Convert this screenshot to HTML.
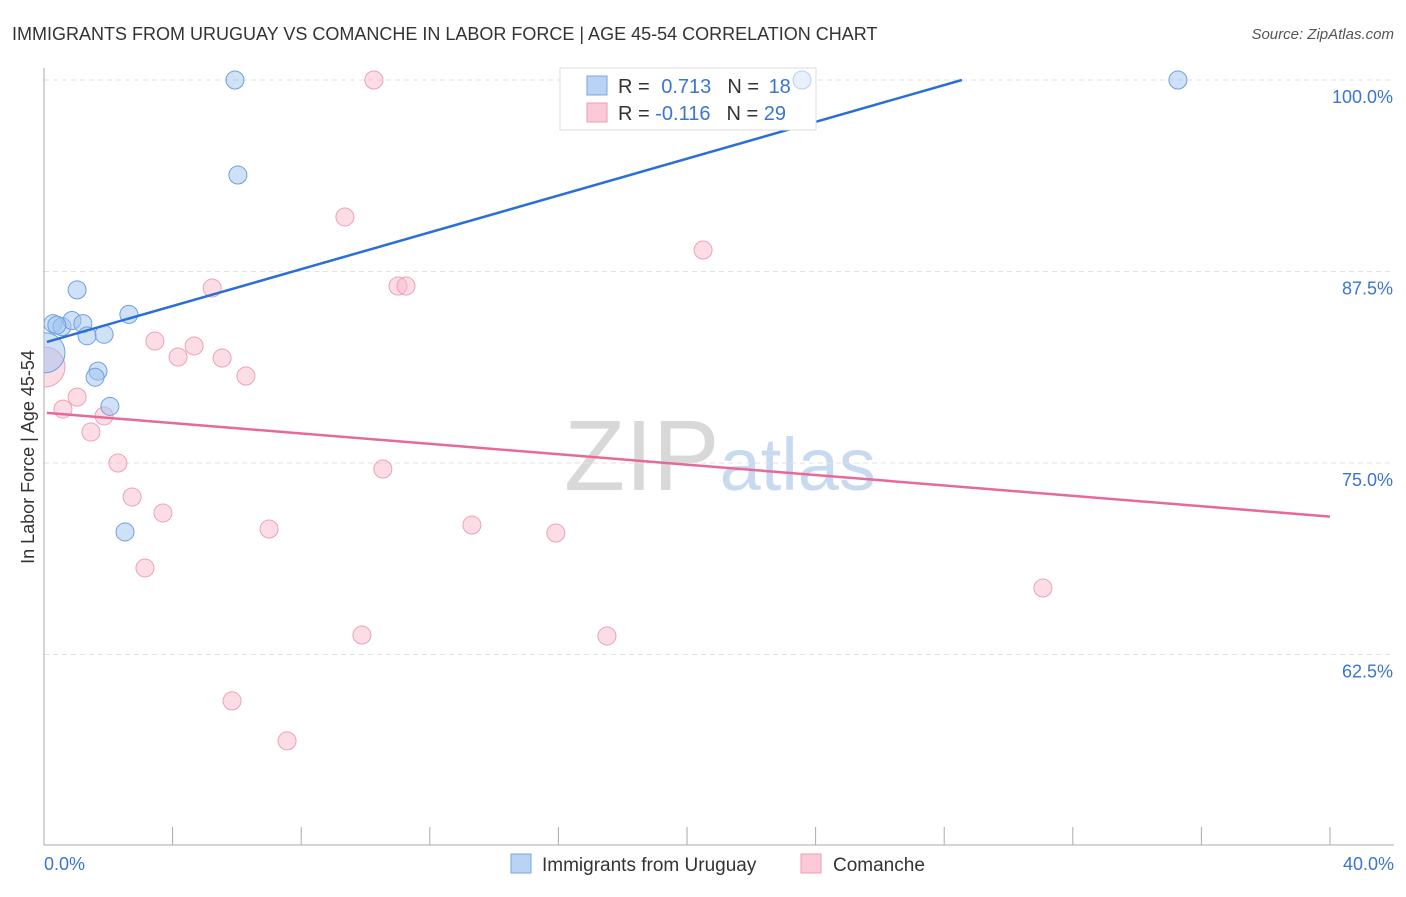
<!DOCTYPE html>
<html><head><meta charset="utf-8"><style>
body{margin:0;background:#fff;font-family:"Liberation Sans",sans-serif}
svg text{font-family:"Liberation Sans",sans-serif}
</style></head><body>
<svg width="1406" height="892" xmlns="http://www.w3.org/2000/svg">
<defs><clipPath id="plotclip"><rect x="44" y="60" width="1362" height="785"/></clipPath></defs>
<text x="12" y="40" font-size="18" fill="#333">IMMIGRANTS FROM URUGUAY VS COMANCHE IN LABOR FORCE | AGE 45-54 CORRELATION CHART</text>
<text x="1394" y="39" font-size="15" fill="#555" font-style="italic" text-anchor="end">Source: ZipAtlas.com</text>
<text x="720" y="490" font-size="100" fill="#ddd" text-anchor="middle" font-family="Liberation Serif"><tspan fill="#d8d8d8">ZIP</tspan><tspan fill="#c8daf0" font-family="Liberation Sans" font-size="74">atlas</tspan></text>
<g id="grid"></g>
<g id="axes"></g>
<g id="marks" clip-path="url(#plotclip)"></g>
<text x="34" y="457" font-size="18" fill="#333" text-anchor="middle" transform="rotate(-90 34 457)">In Labor Force | Age 45-54</text>
<text x="44" y="870" font-size="18" fill="#3a75d0">0.0%</text>
<text x="1394" y="870" font-size="18" fill="#3a75d0" text-anchor="end">40.0%</text>
<g>
<rect x="560" y="68" width="256" height="62" fill="#fff" stroke="#ddd"/>
<rect x="587" y="76" width="20" height="19" fill="#b8d3f5" stroke="#7aa6e0"/>
<rect x="587" y="103" width="20" height="19" fill="#fbcad8" stroke="#ec9ab4"/>
<text x="618" y="93" font-size="20" fill="#333">R = <tspan fill="#3a75d0" dx="6">0.713</tspan><tspan dx="16" fill="#333">N = </tspan><tspan fill="#3a75d0" dx="4">18</tspan></text>
<text x="618" y="120" font-size="20" fill="#333">R = <tspan fill="#3a75d0">-0.116</tspan><tspan dx="16" fill="#333">N = </tspan><tspan fill="#3a75d0">29</tspan></text>
</g>
<circle cx="802" cy="80" r="9" fill="rgba(160,195,240,0.25)" stroke="#b8cff0"/>
<g>
<rect x="511" y="854" width="20" height="19" fill="#b8d3f5" stroke="#7aa6e0"/>
<text x="542" y="871" font-size="19" fill="#333">Immigrants from Uruguay</text>
<rect x="801" y="854" width="20" height="19" fill="#fbcad8" stroke="#ec9ab4"/>
<text x="833" y="871" font-size="19" fill="#333">Comanche</text>
</g>
</svg>
<script>
const yTicks=[100,87.5,75,62.5];
const yTickLabels=["100.0%","87.5%","75.0%","62.5%"];
const xTicks=[0,4,8,12,16,20,24,28,32,36,40];
const blueX=[5.94,6.03,1.03,2.64,0.28,0.56,0.87,1.21,1.34,1.87,0.03,1.68,1.59,2.05,2.52,35.27,0.4];
const blueY=[100,93.8,86.3,84.7,84.1,83.9,84.3,84.1,83.3,83.4,82.2,81.0,80.6,78.7,70.5,100,84.0];
const blueR=[9,9,9,9,9,9,9,9,9,9,20,9,9,9,9,9,9];
const pinkX=[10.26,9.36,20.5,5.23,11.01,11.26,3.45,4.67,4.17,5.54,6.28,0.03,0.59,1.03,1.87,1.46,2.3,2.74,3.7,7.0,13.31,15.92,10.54,3.14,31.07,9.89,17.51,5.85,7.56];
const pinkY=[100,91.06,88.9,86.42,86.55,86.55,82.96,82.64,81.92,81.85,80.68,81.27,78.52,79.3,78.07,77.02,75.0,72.78,71.74,70.69,70.95,70.43,74.61,68.15,66.84,63.77,63.71,59.47,56.86];
const pinkR=[9,9,9,9,9,9,9,9,9,9,9,20,9,9,9,9,9,9,9,9,9,9,9,9,9,9,9,9,9];
const blueTrendX=[0.09,28.55];
const blueTrendY=[82.9,100];
const pinkTrendX=[0.09,40];
const pinkTrendY=[78.27,71.5];
const NS="http://www.w3.org/2000/svg";
const xs=v=>44+v/40*1286;
const ys=v=>80+(100-v)/12.5*191.5;
function el(t,a,p){const e=document.createElementNS(NS,t);for(const k in a)e.setAttribute(k,a[k]);p.appendChild(e);return e;}
const grid=document.getElementById('grid'),axes=document.getElementById('axes'),marks=document.getElementById('marks');
yTicks.forEach((t,i)=>{
 const l=el('line',{x1:44,x2:1394,y1:ys(t),y2:ys(t),stroke:'#e2e2e2','stroke-dasharray':'5,4'},grid);
 
 
 const tx=el('text',{x:1393,y:ys(t)+23,'font-size':18,fill:'#3a75d0','text-anchor':'end'},grid);
 tx.textContent=yTickLabels[i];
 
 
});
const ax=el('line',{x1:44,x2:44,y1:68,y2:845,stroke:'#aaa'},axes);


const bx=el('line',{x1:44,x2:1394,y1:845,y2:845,stroke:'#aaa'},axes);


xTicks.forEach(t=>{
 const l=el('line',{x1:xs(t),x2:xs(t),y1:827,y2:845,stroke:'#aaa'},axes);
 
 
});
pinkX.forEach((v,i)=>{
 const c=el('circle',{cx:xs(v),cy:ys(pinkY[i]),r:pinkR[i],fill:'rgba(248,180,200,0.45)',stroke:'#eea0b8','stroke-width':1},marks);
 
 
});
blueX.forEach((v,i)=>{
 const c=el('circle',{cx:xs(v),cy:ys(blueY[i]),r:blueR[i],fill:'rgba(160,195,240,0.5)',stroke:'#6f9fe0','stroke-width':1},marks);
 
 
});
const bl=el('line',{x1:xs(blueTrendX[0]),y1:ys(blueTrendY[0]),x2:xs(blueTrendX[1]),y2:ys(blueTrendY[1]),stroke:'#2a6fd6','stroke-width':2.5},marks);


const pl=el('line',{x1:xs(pinkTrendX[0]),y1:ys(pinkTrendY[0]),x2:xs(pinkTrendX[1]),y2:ys(pinkTrendY[1]),stroke:'#e8689a','stroke-width':2.5},marks);


</script>
</body></html>
